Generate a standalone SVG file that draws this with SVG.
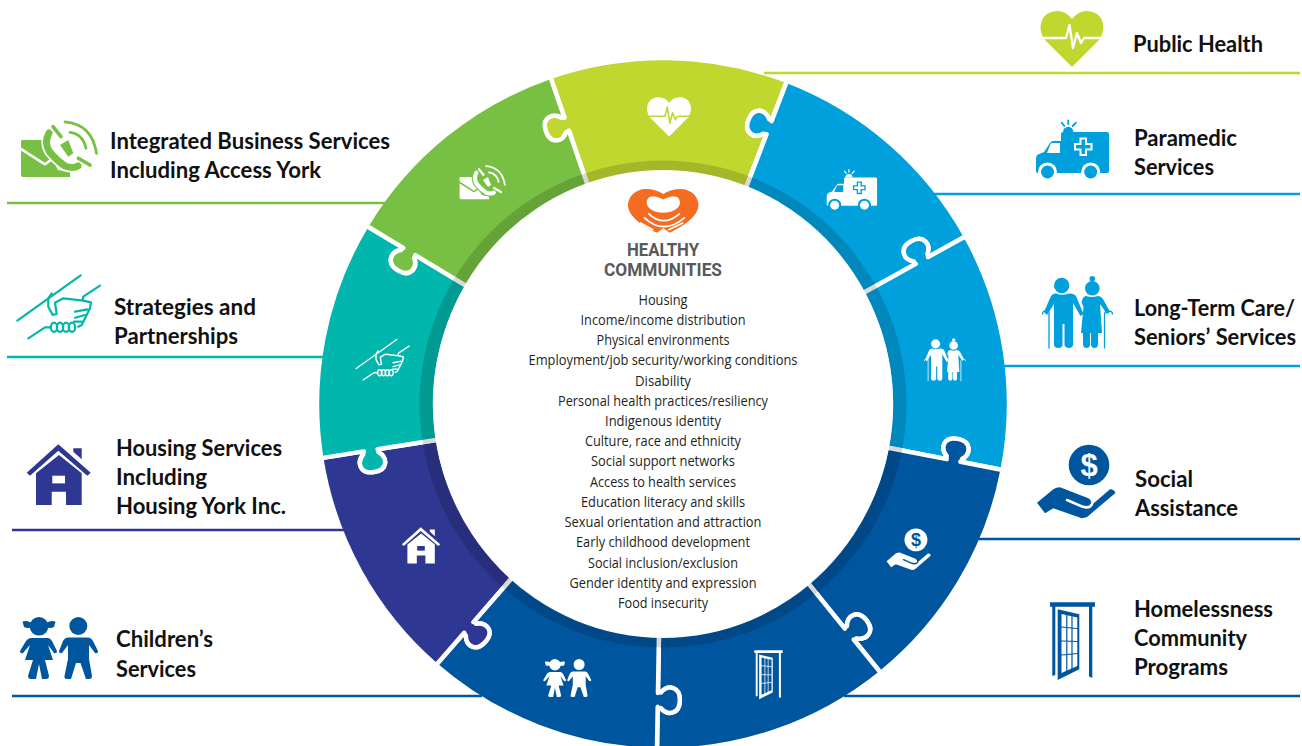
<svg xmlns="http://www.w3.org/2000/svg" width="1302" height="746" viewBox="0 0 1302 746">
<style>
.f{fill:currentColor}.b{fill:var(--bg)}
.sf{fill:none;stroke:currentColor;stroke-linecap:round;stroke-linejoin:round}
.sb{fill:none;stroke:var(--bg);stroke-linecap:round;stroke-linejoin:round}
.t{font-family:Lato,"Liberation Sans",sans-serif;font-weight:700;font-size:22px;fill:#111}
.c{font-family:"Open Sans","Liberation Sans",sans-serif;font-size:14.4px;fill:#231f20;text-anchor:middle}
.h{font-family:Roboto,"Liberation Sans",sans-serif;font-weight:700;font-size:17.5px;fill:#58595b;text-anchor:middle}
.seg{stroke:#fff;stroke-width:4.5;stroke-linejoin:round}
.ln{stroke-width:2.6;fill:none}
</style>
<defs>
<path id="seg" d="M0,-228 L0,-289 Q-1,-288 -3,-288.5 C-10,-280 -22,-282 -22,-296 C-22,-310 -10,-312 -3,-304 Q-1,-304 0,-303 L0,-346 A346,346 0 0 1 222.41,-265.05 L194.77,-232.10 Q194.64,-233.51 193.11,-234.80 C192.89,-245.42 182.42,-251.6 173.42,-240.88 C164.42,-230.15 172.32,-220.91 183.15,-222.92 Q184.36,-221.25 185.77,-221.37 L146.56,-174.65 A228,228 0 0 0 0,-228 Z"/>
<g id="i-heart">
<path class="f" d="M32,56 L4,28 C-4,14 3,0 17,0 C24,0 29,4 32,8 C35,4 40,0 47,0 C61,0 68,14 60,28 Z"/>
<path class="sb" stroke-width="2.3" stroke-linecap="butt" d="M0,27 H26 L29.5,14 L33,37 L37,22 L41,32 L44,27 H64"/>
</g>
<g id="i-amb">
<path class="f" d="M25,14 q0,-2 2,-2 h44 q2,0 2,2 v37 q0,2 -2,2 H2 q-2,0 -2,-2 V39 q0,-4 3,-5 l5,-2 l6,-9 q1,-2 4,-2 h7 z"/>
<path class="b" d="M11,33 l3.5,-9 q.5,-1 2,-1 h7.500 v10 z"/>
<circle class="b" cx="11.5" cy="52" r="9.5"/><circle class="f" cx="11.5" cy="52" r="6.5"/>
<circle class="b" cx="54.7" cy="52" r="9.5"/><circle class="f" cx="54.7" cy="52" r="6.5"/>
<path class="b" d="M43.5,17.5 h7.5 v5.5 h5.5 v7.5 h-5.5 v5.5 h-7.5 v-5.5 h-5.5 v-7.5 h5.5z"/>
<path class="f" d="M45.5,19.5 h3.5 v5.5 h5.5 v3.5 h-5.5 v5.5 h-3.5 v-5.5 h-5.5 v-3.5 h5.5z"/>
<path class="f" d="M27,12 a5.2,5.2 0 0 1 10.4,0z"/>
<path class="sf" stroke-width="1.8" d="M32.2,0.5 V4 M25.7,2.7 L28.3,6 M40,2.7 L36.7,6"/>
</g>
<g id="i-eld">
<circle class="f" cx="19.7" cy="9.5" r="7.7"/>
<path class="f" d="M14,17.5 Q20,20 27,17.5 Q32,17 34,20 L41.5,38 L38.5,40 L31,27 V69 q-.5,3 -4,3 q-3.5,0 -4.5,-3 V48 h-2 V69 q-.5,3 -4,3 q-4,0 -4.5,-3 V28 L5,39 L2,36 L9,20 Q11,17 14,17.5 Z"/>
<circle class="f" cx="50.3" cy="12.3" r="7.3"/><circle class="f" cx="50.3" cy="2.8" r="2.8"/>
<path class="f" d="M44,20 Q50,22 56,20 Q59,20 61,23 L68,36 L65,38 L58,28 L60,57 H56 V69 q-.5,3 -3.5,3 q-3,0 -3.5,-3 V57 h-1 V69 q-.5,3 -3.5,3 q-3,0 -3.5,-3 V57 H39 L41.5,31 L39.5,26 Q41,20 44,20 Z"/>
<path class="sf" stroke-width="1.3" d="M7,72 V36 Q7,35 4,35 Q.5,35 .5,38 M62.5,72 V38 Q63,35 66,35 Q70.5,35 70.5,38"/>
</g>
<g id="i-dol">
<circle class="f" cx="53" cy="21" r="20.3"/>
<path class="f" d="M1,58.7 L17.3,45.3 Q20,43.3 24,43.3 L52.3,54.3 Q55.5,56 55.7,61 L74,45.3 Q77,44.5 79,47.7 Q80,49 77,51 L50.7,73.3 L45.7,74.3 L17.3,64.3 L9,69.3 Z"/>
<path class="sb" stroke-width="2.6" d="M31,56 L46,62.5 Q54,65 56,60"/>
</g>
<g id="i-door">
<path class="f" d="M0,.3 H45 V4.7 H42.3 V76 L39,74.5 V4.7 H5.3 V73 L2.3,74 V4.7 H0 Z"/>
<path class="f" d="M7.7,7.3 L29.3,12.3 V67.3 L7.7,78 Z"/>
<path class="b" d="M11.5,12 L27.3,15.5 V64 L11.5,71 Z"/>
<path class="sf" stroke-width="1.2" stroke-linecap="butt" d="M16.8,12.5 V70 M22,13.5 V67 M11.5,25 L27.3,26.5 M11.5,39 L27.3,39.5 M11.5,53 L27.3,51.5"/>
</g>
<g id="i-env">
<path class="f" d="M2,20 H27 V30 L38,50 L50,52 V57 H3 Q1,57 1,54 V22 Q1,20 2,20 Z"/>
<path class="sb" stroke-width="2.6" stroke-linecap="butt" d="M0,28.3 L25,44.3 L33.3,38.3"/>
<path class="sb" stroke-width="10.5" stroke-linecap="butt" d="M29,12 Q24,22 29,31 Q36,40 45,46 Q53,49 60,45"/>
<path class="f" d="M40,25 L48.3,20 L53.3,33.3 L48.3,36.7 Z"/>
<path class="sf" stroke-width="7" stroke-linecap="round" d="M29,13 Q24,22 29,31 Q36,40 45,46 Q53,49 58,46"/>
<path class="sf" stroke-width="3.6" d="M33,6.7 L41,16.7 M58.3,38.3 L70,45"/>
<path class="sf" stroke-width="2.8" d="M45,1.8 Q72,4 76.500,33.3 M50,12.3 Q63,14 66,28.3"/>
</g>
<g id="i-shake">
<g class="sf" stroke-width="2.2">
<path d="M.3,45.7 L63.7,.3 M11.3,63.3 L28,52.3 H34 M83,10.7 L66.3,21.7 L65.7,25"/>
<path d="M34.7,18.3 L31.3,23.3 V31.7 L35.7,40 L39.7,39 L38,27.7 L46.3,23.3 L66.3,25.700 L74,27.3 L73,33.3 L64.7,50 L61.3,51.700"/>
<path d="M58,36.7 L70.7,34.3 M58,42.7 L68,40 M57,46.7 L64.7,46.7"/>
<ellipse cx="37" cy="52.3" rx="3.2" ry="4.6"/><ellipse cx="43" cy="52.3" rx="3.2" ry="4.6"/><ellipse cx="49" cy="52.3" rx="3.2" ry="4.6"/><ellipse cx="55" cy="52.3" rx="3.2" ry="4.6"/>
</g>
</g>
<g id="i-house">
<path class="f" d="M31.3,.3 L63.7,28.7 L60.3,31.7 L31.3,6.7 L3,31.7 L-.3,28.7 Z"/>
<path class="f" d="M46.3,4.3 H54.7 V15.3 L46.3,7.7 Z"/>
<path class="f" d="M32,11 L54.7,29.3 V61 H39 V47.7 H24.7 V61 H9 V29.3 Z"/>
<rect class="b" x="25.3" y="31.7" width="12.7" height="7.7"/>
</g>
<g id="i-kids">
<circle class="f" cx="19" cy="9.3" r="9.3"/>
<path class="f" d="M2.5,4.5 Q7,3 12,6 V10 Q8,12 4,10 Z M35.5,4.5 Q31,3 26,6 V10 Q30,12 34,10 Z"/>
<path class="f" d="M11,21 H28 Q30,21 32,24 L37,34 Q37,37 34,36 L28,28 L33,43 H25 L29,59 q0,3 -3,3 H22 L19,47 L16,62 H11 q-3,0 -3,-3 L13,43 H5 L10,28 L3,36 Q0,37 0,34 L6,24 Q8,21 11,21 Z"/>
<circle class="f" cx="58.3" cy="9" r="9"/>
<path class="f" d="M48,20.5 H68 Q71,20.5 73,24 L78,34 Q78,37 75,36 L69,28 V42 L72,59 q0,3 -3,3 H66 L60.5,46 H56 L51,62 H47 q-3,0 -2.5,-3 L48,42 V28 L42,36 Q39,37 39,34 L43,24 Q45,20.5 48,20.5 Z"/>
</g>
</defs>

<g id="public-health">
<use href="#seg" class="seg" fill="#c0d72f" transform="translate(663,404) rotate(341)"/>
<use href="#i-heart" transform="translate(646.7,97.3) scale(.7)" style="color:#fff;--bg:#c0d72f"/>
<use href="#i-heart" transform="translate(1040,11)" style="color:#c0d72f;--bg:#fff"/>
<text class="t" x="1133" y="52" textLength="130" lengthAdjust="spacingAndGlyphs">Public Health</text>
</g>
<g id="paramedic-services">
<use href="#seg" class="seg" fill="#00a0dd" transform="translate(663,404) rotate(21)"/>
<use href="#i-amb" transform="translate(826.7,169.3) scale(.69)" style="color:#fff;--bg:#00a0dd"/>
<use href="#i-amb" transform="translate(1036,120)" style="color:#00a0dd;--bg:#fff"/>
<text class="t" x="1134" y="146" textLength="103" lengthAdjust="spacingAndGlyphs">Paramedic</text>
<text class="t" x="1134" y="175" textLength="80" lengthAdjust="spacingAndGlyphs">Services</text>
</g>
<g id="long-term-care">
<use href="#seg" class="seg" fill="#00a0dd" transform="translate(663,404) rotate(61)"/>
<use href="#i-eld" transform="translate(924,338.3) scale(.59)" style="color:#fff;--bg:#00a0dd"/>
<use href="#i-eld" transform="translate(1042,276)" style="color:#00a0dd;--bg:#fff"/>
<text class="t" x="1134" y="316" textLength="161" lengthAdjust="spacingAndGlyphs">Long-Term Care/</text>
<text class="t" x="1134" y="345" textLength="162" lengthAdjust="spacingAndGlyphs">Seniors’ Services</text>
</g>
<g id="social-assistance">
<use href="#seg" class="seg" fill="#00559f" transform="translate(663,404) rotate(101)"/>
<use href="#i-dol" transform="translate(886,528) scale(.565)" style="color:#fff;--bg:#00559f"/>
<text x="916" y="546" font-family="Liberation Sans, sans-serif" font-weight="700" font-size="18" text-anchor="middle" fill="#00559f">$</text>
<use href="#i-dol" transform="translate(1036,444)" style="color:#00559f;--bg:#fff"/>
<text x="1089" y="476" font-family="Liberation Sans, sans-serif" font-weight="700" font-size="31" text-anchor="middle" fill="#fff">$</text>
<text class="t" x="1135" y="487" textLength="58" lengthAdjust="spacingAndGlyphs">Social</text>
<text class="t" x="1135" y="516" textLength="103" lengthAdjust="spacingAndGlyphs">Assistance</text>
</g>
<g id="homelessness-programs">
<use href="#seg" class="seg" fill="#00559f" transform="translate(663,404) rotate(141)"/>
<use href="#i-door" transform="translate(754.3,650) scale(.63)" style="color:#fff;--bg:#00559f"/>
<use href="#i-door" transform="translate(1050,602)" style="color:#00559f;--bg:#fff"/>
<text class="t" x="1134" y="617" textLength="139" lengthAdjust="spacingAndGlyphs">Homelessness</text>
<text class="t" x="1134" y="646" textLength="113" lengthAdjust="spacingAndGlyphs">Community</text>
<text class="t" x="1134" y="675" textLength="94" lengthAdjust="spacingAndGlyphs">Programs</text>
</g>
<g id="childrens-services">
<use href="#seg" class="seg" fill="#00559f" transform="translate(663,404) rotate(181)"/>
<use href="#i-kids" transform="translate(543.3,659) scale(.614)" style="color:#fff;--bg:#00559f"/>
<use href="#i-kids" transform="translate(20,617)" style="color:#00559f;--bg:#fff"/>
<text class="t" x="116" y="647" textLength="97" lengthAdjust="spacingAndGlyphs">Children’s</text>
<text class="t" x="116" y="677" textLength="80" lengthAdjust="spacingAndGlyphs">Services</text>
</g>
<g id="housing-services">
<use href="#seg" class="seg" fill="#2e3791" transform="translate(663,404) rotate(221)"/>
<use href="#i-house" transform="translate(402,527) scale(.6)" style="color:#fff;--bg:#2e3791"/>
<use href="#i-house" transform="translate(27,444)" style="color:#2e3791;--bg:#fff"/>
<text class="t" x="116" y="456" textLength="166" lengthAdjust="spacingAndGlyphs">Housing Services</text>
<text class="t" x="116" y="485" textLength="91" lengthAdjust="spacingAndGlyphs">Including</text>
<text class="t" x="116" y="514" textLength="170" lengthAdjust="spacingAndGlyphs">Housing York Inc.</text>
</g>
<g id="strategies-partnerships">
<use href="#seg" class="seg" fill="#00b6ad" transform="translate(663,404) rotate(261)"/>
<use href="#i-shake" transform="translate(356,339.3) scale(.64)" style="color:#fff;--bg:#00b6ad"/>
<use href="#i-shake" transform="translate(17,275)" style="color:#00b6ad;--bg:#fff"/>
<text class="t" x="114" y="315" textLength="142" lengthAdjust="spacingAndGlyphs">Strategies and</text>
<text class="t" x="114" y="344" textLength="124" lengthAdjust="spacingAndGlyphs">Partnerships</text>
</g>
<g id="integrated-business-services">
<use href="#seg" class="seg" fill="#77c043" transform="translate(663,404) rotate(301)"/>
<use href="#i-env" transform="translate(459,165) scale(.6)" style="color:#fff;--bg:#77c043"/>
<use href="#i-env" transform="translate(20,120)" style="color:#77c043;--bg:#fff"/>
<text class="t" x="110" y="149" textLength="280" lengthAdjust="spacingAndGlyphs">Integrated Business Services</text>
<text class="t" x="110" y="178" textLength="211" lengthAdjust="spacingAndGlyphs">Including Access York</text>
</g>

<g id="ring-shadow">
<ellipse cx="663" cy="404" rx="230" ry="234" fill="#fff"/>
<path fill="#000" fill-opacity=".15" fill-rule="evenodd" d="M419.500,404 a243.5,243.5 0 1 0 487,0 a243.5,243.5 0 1 0 -487,0 Z M433,404 a230,234 0 1 0 460,0 a230,234 0 1 0 -460,0 Z"/>
</g>

<g id="connectors" class="ln">
<line x1="764" y1="73" x2="1300" y2="73" stroke="#c0d72f"/>
<line x1="934" y1="194" x2="1300" y2="194" stroke="#00a0dd"/>
<line x1="1004" y1="366" x2="1300" y2="366" stroke="#00a0dd"/>
<line x1="978" y1="539" x2="1300" y2="539" stroke="#00559f"/>
<line x1="844" y1="696" x2="1300" y2="696" stroke="#00559f"/>
<line x1="7" y1="203" x2="385" y2="203" stroke="#77c043"/>
<line x1="7" y1="357" x2="323" y2="357" stroke="#00b6ad"/>
<line x1="12" y1="530" x2="344" y2="530" stroke="#2e3791"/>
<line x1="12" y1="696" x2="482" y2="696" stroke="#00559f"/>
</g>

<g id="healthy-communities">
<g transform="translate(628,189)">
<path fill="#f36c21" d="M35.3,5 C30,1.500 24,0 18,0 C7,0 0,8 0,16 C0,27 14,37 29,43.7 L35.3,39 L41.500,43.7 C56,37 70.500,27 70.500,16 C70.500,8 63.500,0 52.500,0 C46.500,0 40.500,1.500 35.3,5 Z"/>
<path fill="#fff" d="M35.3,10.500 C31,8 27,7.500 24,7.500 C20,7.500 18.7,11 18.7,14 C18.7,19 26,23.7 35.3,23.7 C44.6,23.7 52,19 52,14 C52,11 50.6,7.500 46.6,7.500 C43.6,7.500 39.6,8 35.3,10.500Z"/>
<path fill="none" stroke="#fff" stroke-width="1.7" d="M20.3,24.3 Q35.3,39 52,24.3 M16,28.3 Q35.300,47 57,28.3 M12,33.7 L25.3,41 M40.3,41 L55.3,33.7"/>
</g>
<text class="h" x="663" y="256" textLength="72" lengthAdjust="spacingAndGlyphs">HEALTHY</text>
<text class="h" x="663" y="276" textLength="118" lengthAdjust="spacingAndGlyphs">COMMUNITIES</text>
<text class="c" x="663" y="305" textLength="49" lengthAdjust="spacingAndGlyphs">Housing</text>
<text class="c" x="663" y="325" textLength="165" lengthAdjust="spacingAndGlyphs">Income/income distribution</text>
<text class="c" x="663" y="345" textLength="133" lengthAdjust="spacingAndGlyphs">Physical environments</text>
<text class="c" x="663" y="365" textLength="269" lengthAdjust="spacingAndGlyphs">Employment/job security/working conditions</text>
<text class="c" x="663" y="385.500" textLength="56" lengthAdjust="spacingAndGlyphs">Disability</text>
<text class="c" x="663" y="405.500" textLength="210" lengthAdjust="spacingAndGlyphs">Personal health practices/resiliency</text>
<text class="c" x="663" y="426" textLength="116" lengthAdjust="spacingAndGlyphs">Indigenous identity</text>
<text class="c" x="663" y="446" textLength="156" lengthAdjust="spacingAndGlyphs">Culture, race and ethnicity</text>
<text class="c" x="663" y="466" textLength="144" lengthAdjust="spacingAndGlyphs">Social support networks</text>
<text class="c" x="663" y="486.500" textLength="146" lengthAdjust="spacingAndGlyphs">Access to health services</text>
<text class="c" x="663" y="507" textLength="164" lengthAdjust="spacingAndGlyphs">Education literacy and skills</text>
<text class="c" x="663" y="527" textLength="197" lengthAdjust="spacingAndGlyphs">Sexual orientation and attraction</text>
<text class="c" x="663" y="547" textLength="174" lengthAdjust="spacingAndGlyphs">Early childhood development</text>
<text class="c" x="663" y="568" textLength="150" lengthAdjust="spacingAndGlyphs">Social inclusion/exclusion</text>
<text class="c" x="663" y="587.500" textLength="187" lengthAdjust="spacingAndGlyphs">Gender identity and expression</text>
<text class="c" x="663" y="608" textLength="90" lengthAdjust="spacingAndGlyphs">Food insecurity</text>
</g>
</svg>
